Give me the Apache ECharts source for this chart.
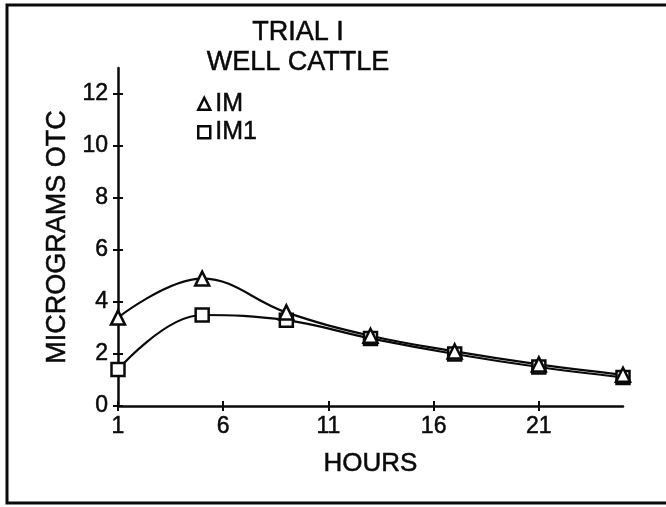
<!DOCTYPE html>
<html>
<head>
<meta charset="utf-8">
<script src="https://cdn.jsdelivr.net/npm/echarts@6/dist/echarts.min.js"></script>
<style>
html,body{margin:0;padding:0;background:#fff;}
#chart{width:666px;height:507px;}
</style>
</head>
<body>
<div id="chart"></div>
<script>
var hours = [1, 5, 9, 13, 17, 21, 25];
var imValues = [3.4, 4.9, 3.6, 2.7, 2.1, 1.6, 1.2];
var im1Values = [1.4, 3.5, 3.3, 2.6, 2.0, 1.5, 1.1];
var xTicks = [1, 6, 11, 16, 21];
var yTicks = [0, 2, 4, 6, 8, 10, 12];
var seriesNames = ['IM', 'IM1'];
var titleLines = ['TRIAL I', 'WELL CATTLE'];

function pairs(xs, ys) { return xs.map(function (x, i) { return [x, ys[i]]; }); }

var FONT = '"Liberation Sans", Arial, Helvetica, sans-serif';
var INK = '#0a0a0a';
var TB = {textBorderColor: INK, textBorderWidth: 0.5};
function ts(o) { return Object.assign({fontFamily: FONT, color: INK}, TB, o); }

var chart = echarts.init(document.getElementById('chart'), null, {renderer: 'canvas'});

var baseX = {
  type: 'value', min: 1, max: 25, gridIndex: 0, position: 'bottom',
  splitLine: {show: false}
};
var baseY = {
  type: 'value', min: 0, max: 13, gridIndex: 0, position: 'left',
  splitLine: {show: false}
};

chart.setOption({
  backgroundColor: '#fff',
  animation: false,
  title: {
    text: titleLines.join('\n'),
    left: 293, top: 13, textAlign: 'center',
    textStyle: ts({fontSize: 27, fontWeight: 'normal', lineHeight: 30})
  },
  legend: {
    orient: 'vertical', left: 192, top: 86, itemGap: 3,
    itemWidth: 12, itemHeight: 12,
    textStyle: ts({fontSize: 25}),
    data: [
      {name: seriesNames[0], icon: 'triangle', itemStyle: {color: '#fff', borderColor: INK, borderWidth: 2.5}},
      {name: seriesNames[1], icon: 'rect', itemStyle: {color: '#fff', borderColor: INK, borderWidth: 2.5}}
    ]
  },
  grid: {left: 118, right: 43, top: 68, bottom: 101},
  graphic: [{
    type: 'rect', z: 100,
    shape: {x: 7, y: 5, width: 680, height: 498},
    style: {fill: null, stroke: INK, lineWidth: 3}
  }],
  xAxis: [
    Object.assign({}, baseX, {
      name: 'HOURS', nameLocation: 'middle', nameGap: 45,
      nameTextStyle: ts({fontSize: 26, verticalAlign: 'top'}),
      axisLine: {show: true, lineStyle: {color: INK, width: 2.5}},
      axisTick: {show: true, inside: false, length: 5, lineStyle: {color: INK, width: 2}, customValues: xTicks},
      axisLabel: Object.assign(ts({fontSize: 23}), {show: true, margin: 9, customValues: xTicks})
    }),
    Object.assign({}, baseX, {
      axisLine: {show: false},
      axisTick: {show: true, inside: true, length: 5, lineStyle: {color: INK, width: 2}, customValues: xTicks},
      axisLabel: {show: false}
    })
  ],
  yAxis: [
    Object.assign({}, baseY, {
      name: 'MICROGRAMS OTC', nameLocation: 'middle', nameGap: 47,
      nameTextStyle: ts({fontSize: 27}),
      axisLine: {show: true, lineStyle: {color: INK, width: 2.5}},
      axisTick: {show: true, inside: false, length: 5, lineStyle: {color: INK, width: 2}, customValues: yTicks},
      axisLabel: Object.assign(ts({fontSize: 23}), {show: true, margin: 10, customValues: yTicks})
    }),
    Object.assign({}, baseY, {
      axisLine: {show: false},
      axisTick: {show: true, inside: true, length: 5, lineStyle: {color: INK, width: 2}, customValues: yTicks},
      axisLabel: {show: false}
    })
  ],
  series: [
    {
      name: seriesNames[1], type: 'line', data: pairs(hours, im1Values),
      xAxisIndex: 0, yAxisIndex: 0, smooth: 0.4,
      symbol: 'rect', symbolSize: 13,
      lineStyle: {color: INK, width: 2.2},
      itemStyle: {color: '#fff', borderColor: INK, borderWidth: 2.5}
    },
    {
      name: seriesNames[0], type: 'line', data: pairs(hours, imValues),
      xAxisIndex: 0, yAxisIndex: 0, smooth: 0.4,
      symbol: 'triangle', symbolSize: 14,
      lineStyle: {color: INK, width: 2.2},
      itemStyle: {color: '#fff', borderColor: INK, borderWidth: 2.5}
    }
  ]
});
</script>
</body>
</html>
